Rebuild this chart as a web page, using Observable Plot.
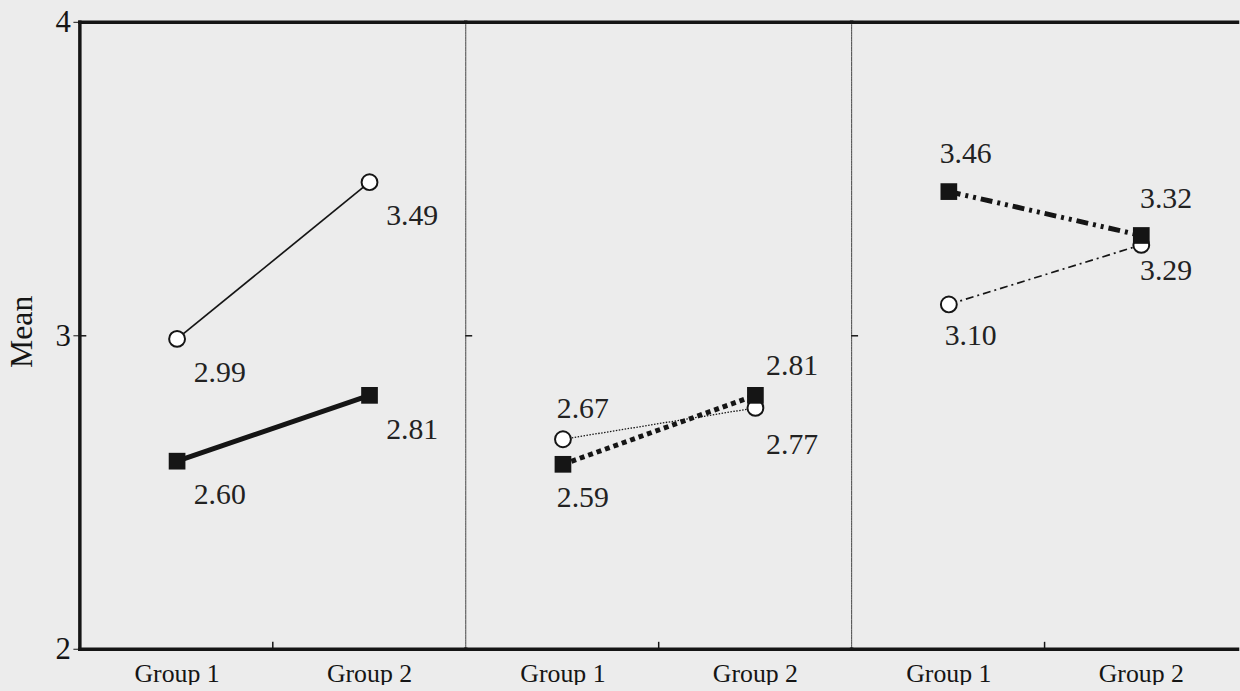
<!DOCTYPE html>
<html><head><meta charset="utf-8">
<script src="https://cdn.jsdelivr.net/npm/d3@7"></script>
<script src="https://cdn.jsdelivr.net/npm/@observablehq/plot@0.6"></script>
<style>
html,body{margin:0;padding:0;background:#ececec;overflow:hidden;}
</style></head><body><div id="chart"></div>
<script>
// ---- data ----
const panels = ["Panel 1", "Panel 2", "Panel 3"];
const groups = ["Group 1", "Group 2"];
const openValues = [[2.99, 3.49], [2.67, 2.77], [3.10, 3.29]];
const filledValues = [[2.60, 2.81], [2.59, 2.81], [3.46, 3.32]];
const yTicks = [2, 3, 4];
const yLabel = "Mean";

const rows = [];
panels.forEach((p, i) => groups.forEach((g, j) => {
  rows.push({panel: p, group: g, series: "open", value: openValues[i][j]});
  rows.push({panel: p, group: g, series: "filled", value: filledValues[i][j]});
}));
rows.forEach(r => {
  const other = rows.find(o => o.panel === r.panel && o.group === r.group && o.series !== r.series);
  r.upper = r.value > other.value;
});

const W = 1250, H = 691, mL = 80, mR = 3, mT = 22, mB = 37;
const facetW = (W - mL - mR) / panels.length;
const ink = "#151515";

const lineStyles = [
  {panel: "Panel 1", series: "open", strokeWidth: 1.7},
  {panel: "Panel 1", series: "filled", strokeWidth: 5},
  {panel: "Panel 2", series: "open", strokeWidth: 1.3, strokeDasharray: "1.5,1.5"},
  {panel: "Panel 2", series: "filled", strokeWidth: 5, strokeDasharray: "5,4"},
  {panel: "Panel 3", series: "open", strokeWidth: 1.7, strokeDasharray: "8,4,2,4"},
  {panel: "Panel 3", series: "filled", strokeWidth: 5, strokeDasharray: "12,5,3,5,3,5"}
];

const placements = [
  {panel: "Panel 1", dx: 43, dy: 34},
  {panel: "Panel 2", group: "Group 1", upper: true, dx: 20, dy: -31},
  {panel: "Panel 2", group: "Group 1", upper: false, dx: 20, dy: 33},
  {panel: "Panel 2", group: "Group 2", upper: true, dx: 37, dy: -30},
  {panel: "Panel 2", group: "Group 2", upper: false, dx: 37, dy: 37},
  {panel: "Panel 3", group: "Group 1", upper: true, dx: 17, dy: -38},
  {panel: "Panel 3", group: "Group 1", upper: false, dx: 22, dy: 31},
  {panel: "Panel 3", group: "Group 2", upper: true, dx: 25, dy: -37},
  {panel: "Panel 3", group: "Group 2", upper: false, dx: 25, dy: 26}
];

const marks = [
  Plot.frame({anchor: "left", stroke: "#444", strokeWidth: 1, strokeDasharray: "1.5,1"}),
  Plot.frame({anchor: "top", stroke: ink, strokeWidth: 3.5}),
  Plot.frame({anchor: "bottom", stroke: ink, strokeWidth: 3.5}),
  Plot.frame({anchor: "left", stroke: ink, strokeWidth: 3.5, facet: "super"}),
  Plot.ruleY([3], {stroke: ink, strokeWidth: 1.5, insetRight: facetW - 7}),
  Plot.ruleX([2], {x: null, y1: d => d, y2: d => d, insetBottom: 7, stroke: ink, strokeWidth: 1.5}),
  Plot.axisY({ticks: yTicks, tickFormat: d3.format("d"), tickSize: 6, tickPadding: 3, fontSize: 31,
    label: null, stroke: ink, fill: ink}),
  Plot.axisX({tickSize: 0, tickPadding: 15, fontSize: 26, label: null, fill: ink}),
  Plot.text([yLabel], {facet: "super", frameAnchor: "left", textAnchor: "middle", rotate: -90,
    dx: -58, dy: -4, fontSize: 32, fill: ink})
];

lineStyles.forEach(s => {
  const {panel, series, ...style} = s;
  marks.push(Plot.line(rows, {
    filter: r => r.panel === panel && r.series === series,
    fx: "panel", x: "group", y: "value", stroke: ink, strokeLinecap: "butt", ...style
  }));
});

marks.push(Plot.dot(rows, {filter: r => r.series === "open", fx: "panel", x: "group", y: "value",
  r: 8, fill: "white", stroke: ink, strokeWidth: 2}));
marks.push(Plot.dot(rows, {filter: r => r.series === "filled", fx: "panel", x: "group", y: "value",
  symbol: "square", r: 9.5, fill: ink, stroke: "none"}));

placements.forEach(pl => {
  marks.push(Plot.text(rows, {
    filter: r => r.panel === pl.panel && (pl.group === undefined || r.group === pl.group) &&
      (pl.upper === undefined || r.upper === pl.upper),
    fx: "panel", x: "group", y: "value", text: d => d.value.toFixed(2),
    dx: pl.dx, dy: pl.dy, fontSize: 30, fill: "#222"
  }));
});

const chart = Plot.plot({
  width: W, height: H,
  marginLeft: mL, marginRight: mR, marginTop: mT, marginBottom: mB,
  style: {background: "#ececec", fontFamily: "'Liberation Serif', serif", color: ink, overflow: "visible"},
  fx: {domain: panels, padding: 0, axis: null},
  x: {type: "point", domain: groups, padding: 0.5},
  y: {domain: [2, 4]},
  marks
});
document.getElementById("chart").appendChild(chart);
</script></body></html>
